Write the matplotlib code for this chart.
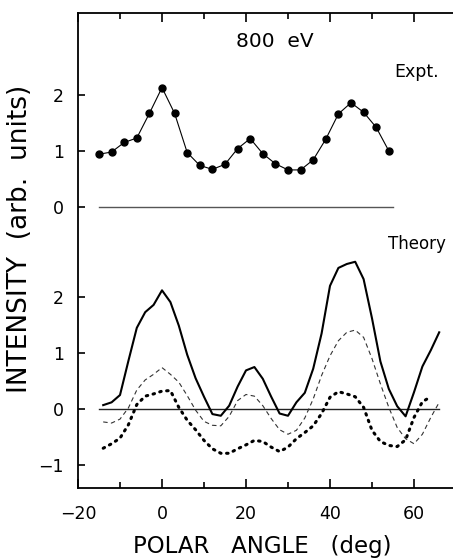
"""
Polar-angle intensity scan at 800 eV: experiment vs. theory curves.
"""

import matplotlib
matplotlib.use('Agg')
import matplotlib.pyplot as plt
from matplotlib.ticker import MultipleLocator, FixedLocator
import numpy as np

# ─── Data ─────────────────────────────────────────────────────────────────────

# Experiment, 3-degree steps
expt_angle = [-15, -12, -9, -6, -3, 0, 3, 6, 9, 12, 15, 18, 21, 24,
              27, 30, 33, 36, 39, 42, 45, 48, 51, 54]
expt_intensity = [0.95, 0.99, 1.16, 1.24, 1.68, 2.14, 1.68, 0.98, 0.75, 0.68,
                  0.77, 1.05, 1.23, 0.96, 0.78, 0.67, 0.67, 0.85, 1.22, 1.67,
                  1.87, 1.70, 1.43, 1.01]
EXPT_OFFSET = 3.6      # experiment panel is stacked above the theory panel

# Theory, 2-degree steps
theory_angle = [-14, -12, -10, -8, -6, -4, -2, 0, 2, 4, 6, 8, 10, 12, 14,
                16, 18, 20, 22, 24, 26, 28, 30, 32, 34, 36, 38, 40, 42, 44,
                46, 48, 50, 52, 54, 56, 58, 60, 62, 64, 66]
theory_solid = [0.07, 0.12, 0.25, 0.86, 1.45, 1.73, 1.86, 2.12, 1.91, 1.49,
                0.97, 0.55, 0.22, -0.09, -0.12, 0.06, 0.40, 0.69, 0.75, 0.54,
                0.22, -0.08, -0.12, 0.12, 0.29, 0.72, 1.35, 2.20, 2.52, 2.59,
                2.63, 2.32, 1.62, 0.85, 0.36, 0.05, -0.13, 0.30, 0.76, 1.05,
                1.37]
theory_dashed = [-0.23, -0.25, -0.18, 0.02, 0.34, 0.52, 0.62, 0.74, 0.62, 0.48,
                 0.24, -0.02, -0.22, -0.29, -0.30, -0.13, 0.15, 0.26, 0.23, 0.06,
                 -0.17, -0.37, -0.45, -0.38, -0.16, 0.18, 0.60, 0.95, 1.22, 1.37,
                 1.41, 1.28, 0.90, 0.45, 0.03, -0.33, -0.53, -0.62, -0.45, -0.15,
                 0.12]
theory_dotted = [-0.70, -0.62, -0.52, -0.28, 0.08, 0.23, 0.27, 0.32, 0.33, 0.03,
                 -0.20, -0.37, -0.56, -0.71, -0.79, -0.79, -0.71, -0.64, -0.56, -0.58,
                 -0.68, -0.76, -0.68, -0.53, -0.42, -0.30, -0.08, 0.21, 0.31, 0.27,
                 0.22, 0.03, -0.38, -0.58, -0.65, -0.67, -0.55, -0.15, 0.13, 0.22]

# zero baselines (angle ranges)
expt_zero_range = [-15, 55]
theory_zero_range = [-15, 66]

ytick_values = [-1, 0, 1, 2]
ytick_labels = ['\u22121', '0', '1', '2']
expt_ytick_values = [0, 1, 2]
xtick_values = [-20, 0, 20, 40, 60]
xtick_labels = ['\u221220', '0', '20', '40', '60']

# ─── Figure ───────────────────────────────────────────────────────────────────
W, H = 453, 559
fig = plt.figure(figsize=(W / 100, H / 100), dpi=100)
ax = fig.add_axes([78 / W, (H - 488) / H, 375 / W, 475 / H])

ax.set_xlim(-20, -20 + 375 / 4.2)
ax.set_ylim(-1.41, -1.41 + 475 / 56)

# zero lines
ax.plot(expt_zero_range, [EXPT_OFFSET] * 2, color='#555555', lw=1.0)
ax.plot(theory_zero_range, [0, 0], color='#222222', lw=1.0)

# experiment
ax.plot(expt_angle, np.array(expt_intensity) + EXPT_OFFSET, '-o', color='black',
        lw=0.8, markersize=5)

# theory
ax.plot(theory_angle, theory_solid, color='black', lw=1.5)
ax.plot(theory_angle, theory_dashed, color='#333333', lw=0.8, linestyle=(0, (4, 3)))
ax.plot(theory_angle[:len(theory_dotted)], theory_dotted, color='black', lw=2.2,
        linestyle=(0, (0.5, 1.8)), dash_capstyle='round')

# ticks
ax.xaxis.set_major_locator(FixedLocator(xtick_values))
ax.set_xticklabels(xtick_labels)
ax.xaxis.set_minor_locator(MultipleLocator(10))
yt = ytick_values + [v + EXPT_OFFSET for v in expt_ytick_values]
ax.set_yticks(yt)
ax.set_yticklabels(ytick_labels + [str(v) for v in expt_ytick_values])
ax.tick_params(axis='x', which='both', direction='in', top=True, width=1.2,
               labelsize=12.5, pad=12)
ax.tick_params(axis='x', which='major', length=6.5)
ax.tick_params(axis='x', which='minor', length=4)
ax.tick_params(axis='y', which='major', direction='in', length=5, width=1.2,
               labelsize=12.5, pad=10)
ax.spines['right'].set_visible(False)
for s in ('left', 'top', 'bottom'):
    ax.spines[s].set_linewidth(1.3)

# labels
ax.set_xlabel('POLAR   ANGLE   (deg)', fontsize=16.5)
ax.xaxis.set_label_coords(0.492, -0.098)
ax.set_ylabel('INTENSITY  (arb.  units)', fontsize=19)
ax.yaxis.set_label_coords(-0.12, 0.524)

ax.text(26.9, 6.57, '800  eV', fontsize=14.5, ha='center', va='center')
ax.text(55.2, 6.02, 'Expt.', fontsize=12.5, ha='left', va='center')
ax.text(53.8, 2.95, 'Theory', fontsize=12, ha='left', va='center')

plt.savefig('out.png', dpi=100)
plt.close()
